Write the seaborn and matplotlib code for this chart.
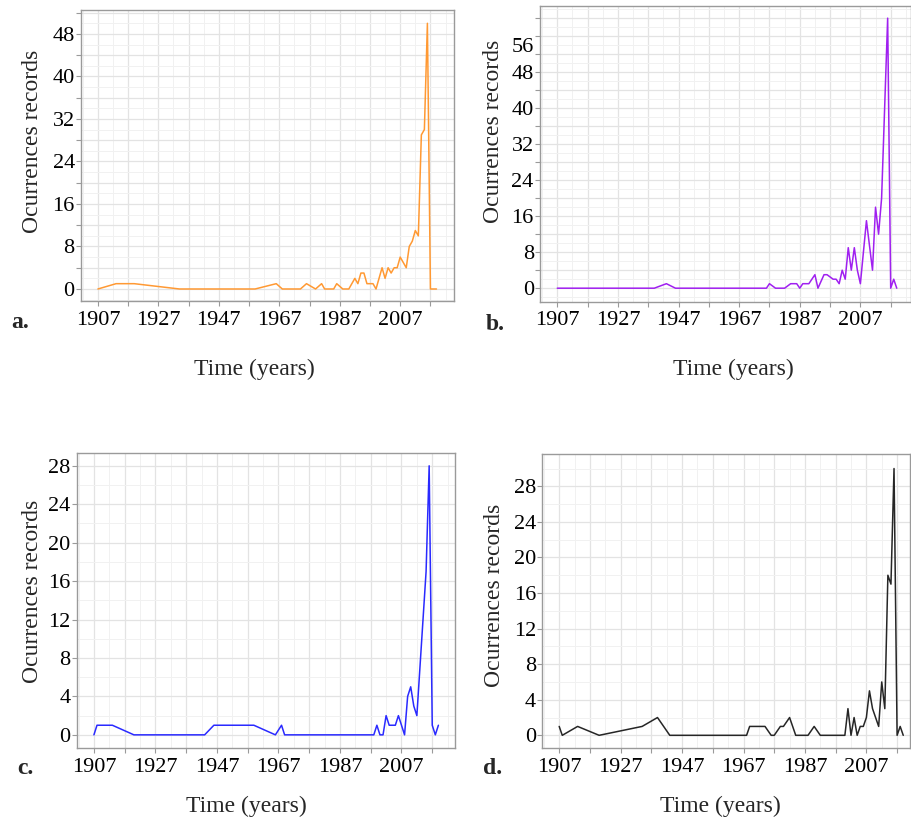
import numpy as np
import pandas as pd
import matplotlib
matplotlib.use("Agg")
import matplotlib.pyplot as plt
import seaborn as sns
from matplotlib.ticker import FixedLocator
from matplotlib.transforms import ScaledTranslation

# Panel a (orange)
years_a = [1907, 1913, 1919, 1934, 1959, 1966, 1968, 1974, 1976, 1979, 1981, 1982,
           1985, 1986, 1988, 1990, 1992, 1993, 1994, 1995, 1996, 1998, 1999, 2001,
           2002, 2003, 2004, 2005, 2006, 2007, 2009, 2010, 2011, 2012, 2013, 2014,
           2015, 2016, 2017, 2019]
counts_a = [0, 1, 1, 0, 0, 1, 0, 0, 1, 0, 1, 0,
            0, 1, 0, 0, 2, 1, 3, 3, 1, 1, 0, 4,
            2, 4, 3, 4, 4, 6, 4, 8, 9, 11, 10, 29,
            30, 50, 0, 0]

# Panel b (purple)
years_b = [1907, 1939, 1943, 1946, 1976, 1977, 1979, 1982, 1984, 1986, 1987, 1988,
           1990, 1992, 1993, 1995, 1996, 1998, 1999, 2000, 2001, 2002, 2003, 2004,
           2005, 2006, 2007, 2009, 2011, 2012, 2013, 2014, 2015, 2016, 2017, 2018,
           2019]
counts_b = [0, 0, 1, 0, 0, 1, 0, 0, 1, 1, 0, 1,
            1, 3, 0, 3, 3, 2, 2, 1, 4, 2, 9, 4,
            9, 4, 1, 15, 4, 18, 12, 20, 40, 60, 0, 2,
            0]

# Panel c (blue)
years_c = [1907, 1908, 1913, 1920, 1943, 1946, 1959, 1966, 1968, 1969, 1998, 1999,
           2000, 2001, 2002, 2003, 2005, 2006, 2008, 2009, 2010, 2011, 2012, 2013,
           2014, 2015, 2016, 2017, 2018, 2019]
counts_c = [0, 1, 1, 0, 0, 1, 1, 0, 1, 0, 0, 1,
            0, 0, 2, 1, 1, 2, 0, 4, 5, 3, 2, 7,
            12, 17, 28, 1, 0, 1]

# Panel d (black)
years_d = [1907, 1908, 1913, 1920, 1934, 1939, 1943, 1968, 1969, 1974, 1976, 1977,
           1979, 1980, 1982, 1984, 1988, 1990, 1992, 2000, 2001, 2002, 2003, 2004,
           2005, 2006, 2007, 2008, 2009, 2011, 2012, 2013, 2014, 2015, 2016, 2017,
           2018, 2019]
counts_d = [1, 0, 1, 0, 1, 2, 0, 0, 1, 1, 0, 0,
            1, 1, 2, 0, 0, 1, 0, 0, 3, 0, 2, 0,
            1, 1, 2, 5, 3, 1, 6, 3, 18, 17, 30, 0,
            1, 0]

x_breaks = list(range(1907, 2018, 10))
x_labels = ["1907", "", "1927", "", "1947", "", "1967", "", "1987", "", "2007", ""]

sns.set_theme(style="white")
plt.rcParams["font.family"] = ["Liberation Serif", "DejaVu Serif"]

fig = plt.figure(figsize=(9.11, 8.23), dpi=100)

W, H = 911.0, 823.0


def px_axes(left, top, right, bottom):
    return fig.add_axes([left / W, (H - bottom) / H, (right - left) / W, (bottom - top) / H])


panels = [
    # years, counts, colour, box (px), xlim, ylim, y breaks, label step,
    # xlabel pos, ylabel pos (axes frac), letter pos (px), letter
    (years_a, counts_a, "#ff9933", (81, 10, 454, 301), (1901.4, 2024.8), (-2.26, 52.5),
     list(range(0, 53, 4)), 8, (0.466, -0.234), (-0.131, 0.548), (20, 323), "a."),
    (years_b, counts_b, "#a020f0", (540, 6, 911, 301.7), (1901.3, 2023.7), (-3.0, 62.7),
     list(range(0, 61, 4)), 8, (0.52, -0.23), (-0.124, 0.576), (495, 325), "b."),
    (years_c, counts_c, "#2a2aff", (76.7, 453.3, 455, 748.3), (1901.4, 2024.4), (-1.4, 29.3),
     list(range(0, 29, 4)), 4, (0.4475, -0.196), (-0.118, 0.531), (25, 768), "c."),
    (years_d, counts_d, "#262626", (542.3, 454.3, 910, 748.3), (1901.5, 2021.2), (-1.46, 31.6),
     list(range(0, 29, 4)), 4, (0.483, -0.196), (-0.131, 0.52), (493, 768), "d."),
]

axes = []
for years, counts, color, box, xlim, ylim, ybreaks, every, xl_pos, yl_pos, let_pos, letter in panels:
    ax = px_axes(*box)
    axes.append(ax)
    df = pd.DataFrame({"year": years, "count": counts})
    sns.lineplot(data=df, x="year", y="count", color=color, linewidth=1.1, ax=ax)

    ax.set_xlim(*xlim)
    ax.set_ylim(*ylim)

    ax.xaxis.set_major_locator(FixedLocator(x_breaks))
    ax.set_xticklabels(x_labels)
    ax.xaxis.set_minor_locator(FixedLocator([b + 5 for b in x_breaks] + [1902]))

    ax.yaxis.set_major_locator(FixedLocator(ybreaks))
    ax.set_yticklabels([str(v) if v % every == 0 else "" for v in ybreaks])
    ax.yaxis.set_minor_locator(FixedLocator([v + 2 for v in ybreaks] + [-2]))

    ax.grid(which="major", color="#e3e3e3", linewidth=0.9)
    ax.grid(which="minor", color="#f1f1f1", linewidth=0.7)
    ax.set_axisbelow(True)

    for side in ax.spines.values():
        side.set_color("#9a9a9a")
        side.set_linewidth(1.0)

    ax.tick_params(axis="both", which="major", direction="out", length=3.5, width=0.8,
                   color="#9a9a9a", labelsize=16, labelcolor="black")
    ax.tick_params(axis="x", which="major", pad=3.5)
    ax.tick_params(axis="y", which="major", pad=1)
    ax.tick_params(which="minor", length=0)
    ax.tick_params(bottom=True, left=True)

    ax.set_xlabel("Time (years)", fontsize=17, va="center")
    ax.xaxis.set_label_coords(*xl_pos)
    ax.set_ylabel("Ocurrences records", fontsize=17, va="center")
    ax.yaxis.set_label_coords(*yl_pos)

    fig.text(let_pos[0] / W, (H - let_pos[1]) / H, letter, fontsize=17, fontweight="bold",
             ha="center", va="center")

# in the source figure the top label of panel b sits a little below its tick
for lab in axes[1].get_yticklabels():
    if lab.get_text() == "56":
        lab.set_transform(lab.get_transform() + ScaledTranslation(0, -0.09, fig.dpi_scale_trans))

fig.savefig("out.png", dpi=100)
